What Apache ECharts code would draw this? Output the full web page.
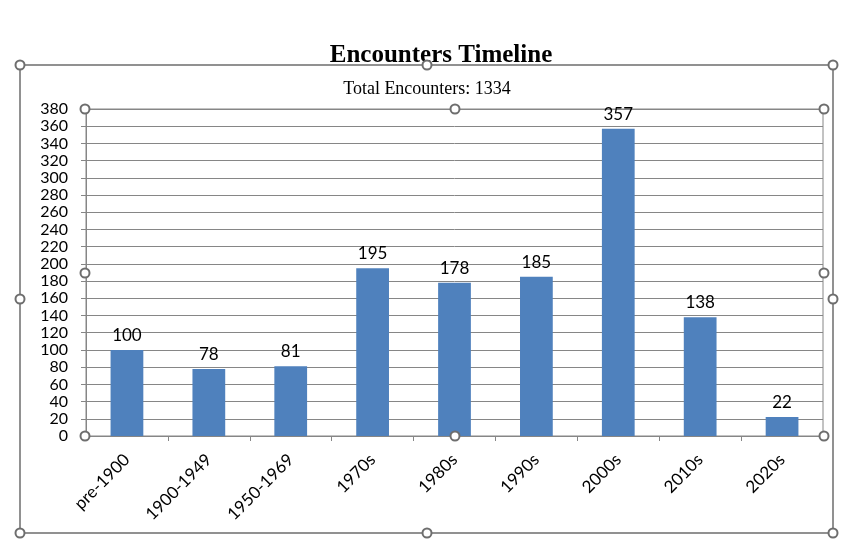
<!DOCTYPE html>
<html>
<head>
<meta charset="utf-8">
<script src="https://cdn.jsdelivr.net/npm/echarts@6/dist/echarts.min.js"></script>
<style>
  html, body { margin: 0; padding: 0; background: #fff; }
  #container { width: 847px; height: 545px; }
</style>
</head>
<body>
<div id="container"></div>
<script>
var dom = document.getElementById('container');
var myChart = echarts.init(dom, null, { renderer: 'canvas' });

// data
var categories = ['pre-1900', '1900-1949', '1950-1969', '1970s', '1980s', '1990s', '2000s', '2010s', '2020s'];
var encounters = [100, 78, 81, 195, 178, 185, 357, 138, 22];
var yMax = 380;
var yStep = 20;

var total = encounters.reduce(function (a, b) { return a + b; }, 0);

// selection handles drawn around chart area and plot area
function handle(x, y) {
    return {
        type: 'circle',
        shape: { cx: x, cy: y, r: 4.5 },
        style: { fill: '#fff', stroke: '#6e6e6e', lineWidth: 2 },
        z: 100
    };
}
function handles(x1, y1, x2, y2) {
    var mx = Math.round((x1 + x2) / 2), my = Math.round((y1 + y2) / 2);
    return [
        handle(x1, y1), handle(mx, y1), handle(x2, y1),
        handle(x1, my), handle(x2, my),
        handle(x1, y2), handle(mx, y2), handle(x2, y2)
    ];
}

var graphics = [{
    type: 'rect',
    shape: { x: 20, y: 65, width: 813, height: 468 },
    style: { fill: 'none', stroke: '#6e6e6e', lineWidth: 1.5 },
    z: 90
}].concat(handles(20, 65, 833, 533)).concat(handles(85, 109, 824, 436));

var option = {
    animation: false,
    title: [{
        text: 'Encounters Timeline',
        left: 436, top: 38, textAlign: 'center',
        textStyle: { fontFamily: 'Liberation Serif', fontWeight: 'bold', fontSize: 25, color: '#000' }
    }, {
        text: 'Total Encounters: ' + total,
        left: 422, top: 75, textAlign: 'center',
        textStyle: { fontFamily: 'Liberation Serif', fontWeight: 'normal', fontSize: 18, color: '#000' }
    }],
    grid: {
        left: 86, top: 109, right: 24, bottom: 109,
        show: true, borderColor: '#868686', borderWidth: 1
    },
    xAxis: {
        type: 'category',
        data: categories,
        axisLine: { lineStyle: { color: '#868686' } },
        axisTick: { show: true, length: 5, alignWithLabel: false, lineStyle: { color: '#868686' } },
        axisLabel: {
            rotate: 45, fontFamily: 'Lato', fontSize: 17, color: '#000', margin: 21
        }
    },
    yAxis: {
        type: 'value',
        min: 0, max: yMax, interval: yStep,
        axisLine: { show: true, lineStyle: { color: '#868686' } },
        axisTick: { show: true, length: 5, lineStyle: { color: '#868686' } },
        axisLabel: { fontFamily: 'Lato', fontSize: 16, color: '#000', margin: 18 },
        splitLine: { lineStyle: { color: '#868686', width: 1 } }
    },
    series: [{
        type: 'bar',
        data: encounters,
        barWidth: '40%',
        itemStyle: { color: '#4f81bd' },
        label: {
            show: true, position: 'top', distance: 6,
            fontFamily: 'Lato', fontSize: 17, color: '#000'
        }
    }],
    graphic: graphics
};

myChart.setOption(option);
</script>
</body>
</html>
